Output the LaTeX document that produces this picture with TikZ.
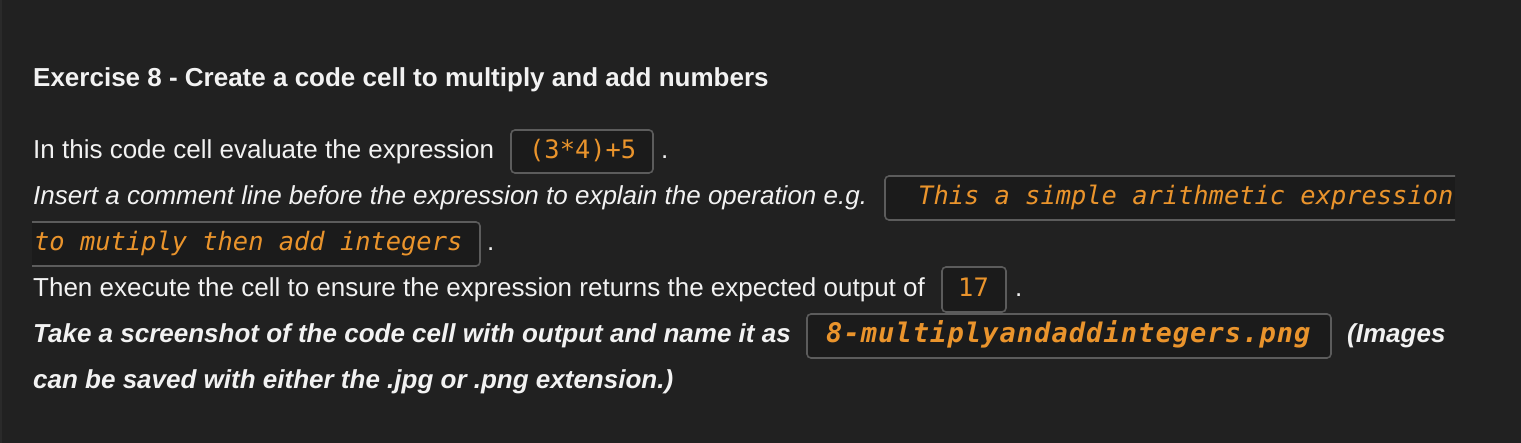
\documentclass[tikz,border=0pt]{standalone}
\usepackage{fontspec}
\setmainfont{Liberation Sans}
\newfontfamily\codefont{DejaVu Sans Mono}
\newfontfamily\codefontwide[LetterSpace=4]{DejaVu Sans Mono}
\definecolor{bg}{HTML}{212121}
\definecolor{fg}{HTML}{F2F2F2}
\definecolor{codeor}{RGB}{234,148,44}
\definecolor{boxc}{HTML}{5C5C5C}
\definecolor{boxbg}{HTML}{1B1B1B}
\definecolor{edge}{HTML}{2A2A2A}
\begin{document}
\begin{tikzpicture}[x=1pt,y=-1pt,
  txt/.style={anchor=base west, inner sep=0pt, text=fg, font=\fontsize{26}{30}\selectfont},
  txti/.style={txt, font=\itshape\fontsize{26}{30}\selectfont},
  txtbi/.style={txt, font=\bfseries\itshape\fontsize{26}{30}\selectfont},
  txtb/.style={txt, font=\bfseries\fontsize{26}{30}\selectfont},
  code/.style={anchor=base west, inner sep=0pt, text=codeor, font=\codefont\fontsize{25.4}{30}\selectfont},
  codei/.style={code, font=\codefont\itshape\fontsize{25.4}{30}\selectfont},
  codebi/.style={code, font=\codefontwide\bfseries\itshape\fontsize{27}{30}\selectfont},
  codebox/.style={draw=boxc, line width=1.6pt, rounded corners=4pt, fill=boxbg, inner sep=0pt},
  openbox/.style={draw=boxc, line width=1.6pt, rounded corners=4pt}]
\fill[bg] (0,0) rectangle (1521,443);
\fill[edge] (0,0) rectangle (2,443);
\useasboundingbox (0,0) rectangle (1521,443);

% heading
\node[txtb] (h) at (33,87) {Exercise 8 - Create a code cell to multiply and add numbers};

% line 1
\node[txt] (l1) at (33,159) {In this code cell evaluate the expression};
\node[codebox, minimum width=142pt, minimum height=43pt] (b1) at (582,151.5) {};
\node[code] (c1) at (529,159) {(3*4)+5};
\node[txt] (d1) at (661,159) {.};

% line 2
\node[txti] (l2) at (33,205) {Insert a comment line before the expression to explain the operation e.g.};
\fill[boxbg] (885,176) rectangle (1455,220);
\draw[openbox] (1455,176) -- (885,176) -- (885,220) -- (1455,220);
\coordinate (b2) at (1170,198);
\node[codei] (c2) at (918,205) {This a simple arithmetic expression};

% line 3
\fill[boxbg] (32,222) rectangle (480,266);
\draw[openbox] (32,222) -- (480,222) -- (480,266) -- (32,266);
\coordinate (b3) at (256,244);
\node[codei] (c3) at (34,251) {to mutiply then add integers};
\node[txt] (d3) at (487,251) {.};

% line 4
\node[txt] (l4) at (33,297) {Then execute the cell to ensure the expression returns the expected output of};
\node[codebox, minimum width=64pt, minimum height=45pt] (b4) at (974,289.5) {};
\node[code] (c4) at (958,297) {17};
\node[txt] (d4) at (1015,297) {.};

% line 5
\node[txtbi] (l5) at (33,343) {Take a screenshot of the code cell with output and name it as};
\node[codebox, minimum width=524pt, minimum height=44pt] (b5) at (1069,336) {};
\node[codebi] (c5) at (826,343) {8-multiplyandaddintegers.png};
\node[txtbi] (i5) at (1347,343) {(Images};

% line 6
\node[txtbi] (l6) at (33,389) {can be saved with either the .jpg or .png extension.)};
\end{tikzpicture}
\end{document}
